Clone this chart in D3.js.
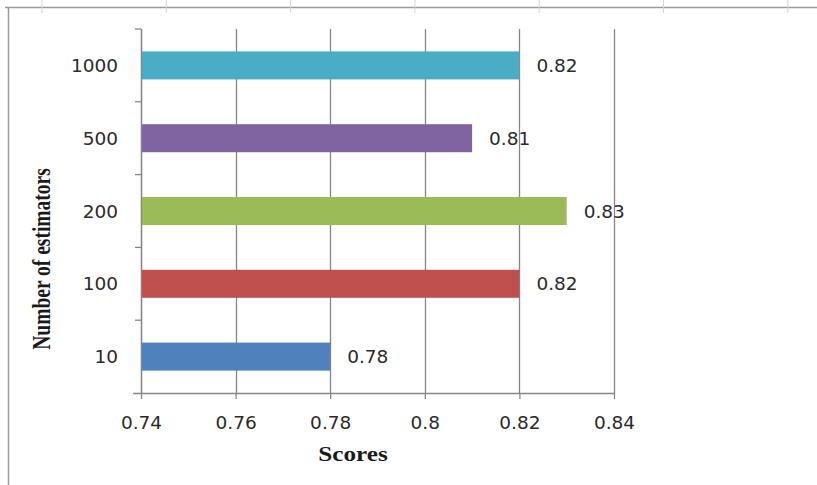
<!DOCTYPE html>
<html lang="en">
<head>
  <meta charset="UTF-8">
  <title>Scores by number of estimators</title>
  <style>
    body, html {
      margin: 0;
      padding: 0;
      background: white;
    }
    svg {
      display: block;
    }
  </style>
</head>
<body>
  <script src="https://d3js.org/d3.v7.min.js"></script>
  <script>
    // Data (top to bottom)
    const estimators = ['1000', '500', '200', '100', '10'];
    const scores = [0.82, 0.81, 0.83, 0.82, 0.78];
    const barColors = ['#4BACC6', '#8064A2', '#9BBB59', '#C0504D', '#4F81BD'];
    const xTicks = [0.74, 0.76, 0.78, 0.8, 0.82, 0.84];

    const width = 817;
    const height = 485;

    const svg = d3.select('body')
      .append('svg')
      .attr('width', width)
      .attr('height', height);

    // frame of the screenshot (sheet edge + ruler marks)
    const frame = svg.append('g').attr('stroke', '#9a9a9a');
    frame.append('line')
      .attr('x1', 5).attr('x2', width).attr('y1', 7.5).attr('y2', 7.5)
      .attr('stroke-width', 1.5);
    frame.append('line')
      .attr('x1', 8.5).attr('x2', 8.5).attr('y1', 7).attr('y2', height)
      .attr('stroke-width', 1.5);
    d3.range(7).forEach(i => {
      const xm = 42 + i * 124.3;
      frame.append('line')
        .attr('x1', xm).attr('x2', xm).attr('y1', 0).attr('y2', 13)
        .attr('stroke', '#d4d4d4');
    });

    // plot area
    const plotLeft = 141, plotRight = 614, plotTop = 29, plotBottom = 393;

    const x = d3.scaleLinear()
      .domain([0.74, 0.84])
      .range([plotLeft, plotRight]);

    const y = d3.scaleBand()
      .domain(estimators)
      .range([plotTop, plotBottom])
      .paddingInner(0.615)
      .paddingOuter(0.3075);

    const axisColor = '#868686';

    // vertical gridlines
    svg.append('g')
      .selectAll('line')
      .data(xTicks)
      .enter()
      .append('line')
      .attr('x1', d => Math.round(x(d)) + 0.5)
      .attr('x2', d => Math.round(x(d)) + 0.5)
      .attr('y1', plotTop)
      .attr('y2', plotBottom)
      .attr('stroke', axisColor)
      .attr('stroke-width', 1.3);

    // bars
    svg.append('g')
      .selectAll('rect')
      .data(scores)
      .enter()
      .append('rect')
      .attr('x', x(0.74))
      .attr('y', (d, i) => y(estimators[i]))
      .attr('width', d => x(d) - x(0.74))
      .attr('height', y.bandwidth())
      .attr('fill', (d, i) => barColors[i]);

    // x axis
    const xAxis = svg.append('g')
      .attr('transform', `translate(0,${plotBottom})`)
      .call(d3.axisBottom(x).tickValues(xTicks).tickSize(6).tickSizeOuter(0)
        .tickFormat(d3.format('')));
    xAxis.select('.domain').remove();
    xAxis.append('line')
      .attr('x1', plotLeft - 8).attr('x2', plotRight).attr('y1', 0.5).attr('y2', 0.5)
      .attr('stroke', axisColor).attr('stroke-width', 1.3);
    xAxis.selectAll('.tick line').attr('stroke', axisColor).attr('stroke-width', 1.3);
    xAxis.selectAll('.tick text')
      .attr('y', 0)
      .attr('dy', 36)
      .attr('fill', '#2a2a2a')
      .style('font-family', '"DejaVu Sans", Verdana, sans-serif')
      .style('font-size', '18.5px');

    // y axis: labels at band centres, small ticks at band edges
    const yAxis = svg.append('g');
    yAxis.append('line')
      .attr('x1', plotLeft + 0.5).attr('x2', plotLeft + 0.5).attr('y1', plotTop).attr('y2', plotBottom)
      .attr('stroke', axisColor).attr('stroke-width', 1.3);
    const edges = estimators.slice(0, -1).map(c => y(c) + y.bandwidth() + y.step() * y.paddingInner() / 2);
    edges.unshift(plotTop);
    yAxis.selectAll('line.edge')
      .data(edges)
      .enter()
      .append('line')
      .attr('class', 'edge')
      .attr('x1', plotLeft - 6).attr('x2', plotLeft)
      .attr('y1', d => d).attr('y2', d => d)
      .attr('stroke', axisColor).attr('stroke-width', 1.3);
    yAxis.selectAll('text')
      .data(estimators)
      .enter()
      .append('text')
      .attr('x', plotLeft - 23)
      .attr('y', d => y(d) + y.bandwidth() / 2)
      .attr('dy', '0.36em')
      .attr('text-anchor', 'end')
      .attr('fill', '#2a2a2a')
      .style('font-family', '"DejaVu Sans", Verdana, sans-serif')
      .style('font-size', '18.5px')
      .text(d => d);

    // value labels
    svg.append('g')
      .selectAll('text')
      .data(scores)
      .enter()
      .append('text')
      .attr('x', d => x(d) + 17)
      .attr('y', (d, i) => y(estimators[i]) + y.bandwidth() / 2)
      .attr('dy', '0.36em')
      .attr('fill', '#2a2a2a')
      .style('font-family', '"DejaVu Sans", Verdana, sans-serif')
      .style('font-size', '18.5px')
      .text(d => d3.format('.2f')(d));

    // axis titles (serif bold, a bit stretched sideways like the picture)
    svg.append('text')
      .attr('transform', 'translate(353,461) scale(1.2,1)')
      .attr('text-anchor', 'middle')
      .attr('fill', '#1a1a1a')
      .style('font-family', '"Liberation Serif", "Times New Roman", serif')
      .style('font-weight', 'bold')
      .style('font-size', '21px')
      .text('Scores');

    svg.append('text')
      .attr('transform', 'translate(50,259) scale(1.25,1) rotate(-90)')
      .attr('text-anchor', 'middle')
      .attr('fill', '#1a1a1a')
      .style('font-family', '"Liberation Serif", "Times New Roman", serif')
      .style('font-weight', 'bold')
      .style('font-size', '19.5px')
      .text('Number of estimators');
  </script>
</body>
</html>
